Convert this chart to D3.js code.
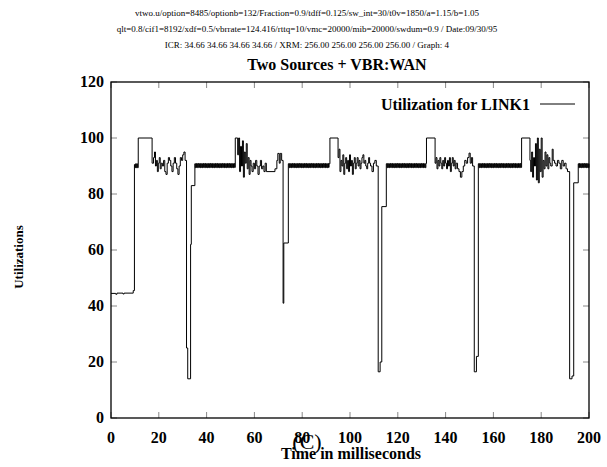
<!DOCTYPE html>
<html><head><meta charset="utf-8">
<script src="https://d3js.org/d3.v7.min.js"></script>
<style>body{margin:0;background:#fff}svg{display:block}</style>
</head><body>
<script>
const headerLines = [
  "vtwo.u/option=8485/optionb=132/Fraction=0.9/tdff=0.125/sw_int=30/t0v=1850/a=1.15/b=1.05",
  "qlt=0.8/cif1=8192/xdf=0.5/vbrrate=124.416/rttq=10/vmc=20000/mib=20000/swdum=0.9 / Date:09/30/95",
  "ICR: 34.66 34.66 34.66 34.66 / XRM: 256.00 256.00 256.00 256.00 / Graph: 4"
];
const titleText = "Two Sources + VBR:WAN";
const legendLabel = "Utilization for LINK1";
const xTitle = "Time in milliseconds";
const yTitle = "Utilizations";
const xTicks = [0,20,40,60,80,100,120,140,160,180,200];
const yTicks = [0,20,40,60,80,100,120];

// step series: [time ms, utilization %]
const startup = [[0,44.5],[2,44.2],[2.5,44.6],[5,44.3],[5.5,44.6],[9.3,45.5],[9.8,90.5],[10.05,89.4],[10.3,90.8],[10.55,89.4],[10.8,90.8],[11.05,89.4]];
const burst1 = [[11.4,100],[17.2,91],[17.8,93],[18.2,95],[18.6,90],[19.0,92],[19.4,88],[19.8,91],[20.2,93],[20.6,89],[21.0,91],[21.5,90],[22.0,92],[22.5,88],[23.0,87],[23.5,91],[24.0,93],[24.5,92],[25.0,90],[25.5,88],[26.0,91],[26.5,93],[27.0,91],[27.5,89],[28.0,87],[28.5,90],[29.0,93],[29.5,92],[30.0,94],[30.5,95],[31.0,92],[31.6,25],[32.1,14],[33.3,62],[33.6,83]];
const band1 = [[35.1,90.8],[35.25,89.4],[35.5,90.9],[35.75,89.5],[36,90.8],[36.25,89.4],[36.5,90.9],[36.75,89.5],[37,90.8],[37.25,89.4],[37.5,90.9],[37.75,89.5],[38,90.8],[38.25,89.4],[38.5,90.9],[38.75,89.5],[39,90.8],[39.25,89.4],[39.5,90.9],[39.75,89.5],[40,90.8],[40.25,89.4],[40.5,90.9],[40.75,89.5],[41,90.8],[41.25,89.4],[41.5,90.9],[41.75,89.5],[42,90.8],[42.25,89.4],[42.5,90.9],[42.75,89.5],[43,90.8],[43.25,89.4],[43.5,90.9],[43.75,89.5],[44,90.8],[44.25,89.4],[44.5,90.9],[44.75,89.5],[45,90.8],[45.25,89.4],[45.5,90.9],[45.75,89.5],[46,90.8],[46.25,89.4],[46.5,90.9],[46.75,89.5],[47,90.8],[47.25,89.4],[47.5,90.9],[47.75,89.5],[48,90.8],[48.25,89.4],[48.5,90.9],[48.75,89.5],[49,90.8],[49.25,89.4],[49.5,90.9],[49.75,89.5],[50,90.8],[50.25,89.4],[50.5,90.9],[50.75,89.5],[51,90.8],[51.25,89.4],[51.5,90.9],[51.75,89.5]];
const burst2 = [[52,100],[53.0,94],[53.4,100],[53.8,88],[54.2,97],[54.6,90],[55.0,99],[55.4,86],[55.8,95],[56.2,91],[56.6,98],[57.0,89],[57.4,93],[57.8,87],[58.2,92],[58.6,90],[59.0,88],[59.5,91],[60,89],[60.5,92],[61,90],[61.5,87],[62,90],[62.5,92],[63,89],[63.5,90],[64,88],[64.5,91],[65,88],[68.6,89],[69.4,92],[69.8,94.5],[70.4,91],[70.8,94.5],[71.4,92],[72.0,41],[72.3,62.5]];
const band2 = [[74.2,90.8],[74.5,89.4],[74.75,90.9],[75,89.5],[75.25,90.8],[75.5,89.4],[75.75,90.9],[76,89.5],[76.25,90.8],[76.5,89.4],[76.75,90.9],[77,89.5],[77.25,90.8],[77.5,89.4],[77.75,90.9],[78,89.5],[78.25,90.8],[78.5,89.4],[78.75,90.9],[79,89.5],[79.25,90.8],[79.5,89.4],[79.75,90.9],[80,89.5],[80.25,90.8],[80.5,89.4],[80.75,90.9],[81,89.5],[81.25,90.8],[81.5,89.4],[81.75,90.9],[82,89.5],[82.25,90.8],[82.5,89.4],[82.75,90.9],[83,89.5],[83.25,90.8],[83.5,89.4],[83.75,90.9],[84,89.5],[84.25,90.8],[84.5,89.4],[84.75,90.9],[85,89.5],[85.25,90.8],[85.5,89.4],[85.75,90.9],[86,89.5],[86.25,90.8],[86.5,89.4],[86.75,90.9],[87,89.5],[87.25,90.8],[87.5,89.4],[87.75,90.9],[88,89.5],[88.25,90.8],[88.5,89.4],[88.75,90.9],[89,89.5],[89.25,90.8],[89.5,89.4],[89.75,90.9],[90,89.5],[90.25,90.8],[90.5,89.4],[90.75,90.9],[91,89.5],[91.25,90.8]];
const burst3 = [[91.6,100],[95.0,93],[95.4,96],[95.8,88],[96.2,92],[96.6,90],[97,94],[97.4,87],[97.8,91],[98.2,93],[98.6,89],[99,92],[99.4,88],[99.8,94],[100.2,90],[100.6,92],[101,87],[101.4,91],[101.8,93],[102.2,89],[102.6,91],[103,93],[103.4,90],[103.8,92],[104.2,89],[104.6,91],[105,93],[105.4,94],[105.8,91],[106.2,92],[106.6,90],[107,89],[107.4,91],[107.8,93],[108.2,91],[108.6,90],[109.2,88],[109.8,91],[110.4,92],[111,90],[111.8,16.5],[112.6,20],[113.3,75.5]];
const band3 = [[115.2,90.8],[115.5,89.4],[115.75,90.9],[116,89.5],[116.25,90.8],[116.5,89.4],[116.75,90.9],[117,89.5],[117.25,90.8],[117.5,89.4],[117.75,90.9],[118,89.5],[118.25,90.8],[118.5,89.4],[118.75,90.9],[119,89.5],[119.25,90.8],[119.5,89.4],[119.75,90.9],[120,89.5],[120.25,90.8],[120.5,89.4],[120.75,90.9],[121,89.5],[121.25,90.8],[121.5,89.4],[121.75,90.9],[122,89.5],[122.25,90.8],[122.5,89.4],[122.75,90.9],[123,89.5],[123.25,90.8],[123.5,89.4],[123.75,90.9],[124,89.5],[124.25,90.8],[124.5,89.4],[124.75,90.9],[125,89.5],[125.25,90.8],[125.5,89.4],[125.75,90.9],[126,89.5],[126.25,90.8],[126.5,89.4],[126.75,90.9],[127,89.5],[127.25,90.8],[127.5,89.4],[127.75,90.9],[128,89.5],[128.25,90.8],[128.5,89.4],[128.75,90.9],[129,89.5],[129.25,90.8],[129.5,89.4],[129.75,90.9],[130,89.5],[130.25,90.8],[130.5,89.4],[130.75,90.9],[131,89.5],[131.25,90.8],[131.5,89.4],[131.75,90.9]];
const burst4 = [[132,100],[135.6,91],[136,93],[136.4,89],[136.8,92],[137.2,90],[137.6,93],[138,91],[138.4,89],[138.8,92],[139.2,90],[139.6,93],[140,91],[140.4,89],[140.8,92],[141.2,90],[141.6,93],[142,88],[142.4,91],[142.8,93],[143.2,90],[143.6,92],[144,89],[144.4,91],[145,89],[145.6,88],[146.2,86],[146.8,88],[147.4,90],[148,92],[148.6,91],[149.2,93],[149.8,94.6],[150.3,91],[150.8,93],[151.3,90],[152.0,16.5],[152.9,22]];
const band4 = [[153.7,90.8],[154,89.4],[154.25,90.9],[154.5,89.5],[154.75,90.8],[155,89.4],[155.25,90.9],[155.5,89.5],[155.75,90.8],[156,89.4],[156.25,90.9],[156.5,89.5],[156.75,90.8],[157,89.4],[157.25,90.9],[157.5,89.5],[157.75,90.8],[158,89.4],[158.25,90.9],[158.5,89.5],[158.75,90.8],[159,89.4],[159.25,90.9],[159.5,89.5],[159.75,90.8],[160,89.4],[160.25,90.9],[160.5,89.5],[160.75,90.8],[161,89.4],[161.25,90.9],[161.5,89.5],[161.75,90.8],[162,89.4],[162.25,90.9],[162.5,89.5],[162.75,90.8],[163,89.4],[163.25,90.9],[163.5,89.5],[163.75,90.8],[164,89.4],[164.25,90.9],[164.5,89.5],[164.75,90.8],[165,89.4],[165.25,90.9],[165.5,89.5],[165.75,90.8],[166,89.4],[166.25,90.9],[166.5,89.5],[166.75,90.8],[167,89.4],[167.25,90.9],[167.5,89.5],[167.75,90.8],[168,89.4],[168.25,90.9],[168.5,89.5],[168.75,90.8],[169,89.4],[169.25,90.9],[169.5,89.5],[169.75,90.8],[170,89.4],[170.25,90.9],[170.5,89.5],[170.75,90.8],[171,89.4],[171.25,90.9],[171.5,89.5]];
const burst5 = [[171.8,100],[175.3,92],[175.6,88],[176,95],[176.4,86],[176.8,93],[177.2,90],[177.6,98],[178,85],[178.4,100],[178.8,84],[179.2,96],[179.6,88],[180,100],[180.4,86],[180.8,92],[181.2,89],[181.6,95],[182,90],[182.4,94],[182.8,89],[183.2,93],[183.6,91],[184,90],[184.6,96],[185.0,92],[185.6,91],[186.2,90],[186.8,92],[187.4,91],[188,89],[188.6,92],[189.2,90],[189.8,91],[190.4,89],[191.0,88],[191.9,14],[192.9,15],[193.6,84]];
const band5 = [[195.5,90.8],[195.75,89.4],[196,90.9],[196.25,89.5],[196.5,90.8],[196.75,89.4],[197,90.9],[197.25,89.5],[197.5,90.8],[197.75,89.4],[198,90.9],[198.25,89.5],[198.5,90.8],[198.75,89.4],[199,90.9],[199.25,89.5],[199.5,90.8],[199.75,89.4],[200,90.8]];

const link1 = [].concat(startup, burst1, band1, burst2, band2, burst3, band3, burst4, band4, burst5, band5);

const W = 607, H = 467;
const M = {left:111, right:589, top:82, bottom:418};
const svg = d3.select("body").append("svg").attr("width", W).attr("height", H);
const serif = "'Liberation Serif','Times New Roman',serif";

const x = d3.scaleLinear().domain([0,200]).range([M.left, M.right]);
const y = d3.scaleLinear().domain([0,120]).range([M.bottom, M.top]);

// header lines
svg.selectAll("text.hdr").data(headerLines).join("text")
  .attr("class","hdr").attr("x", 307).attr("y", (d,i)=>16 + i*16)
  .attr("text-anchor","middle").attr("font-family", serif).attr("font-size", 9)
  .text(d=>d);

svg.append("text").attr("x", 337).attr("y", 70).attr("text-anchor","middle")
  .attr("font-family", serif).attr("font-weight","bold").attr("font-size", 16).text(titleText);

// ticks (inward, all four sides)
const tickColor = "#888";
const tl = 6;
const g = svg.append("g");
g.selectAll("line.xb").data(xTicks).join("line").attr("x1", d=>x(d)).attr("x2", d=>x(d))
  .attr("y1", M.bottom).attr("y2", M.bottom - tl).attr("stroke", tickColor);
g.selectAll("line.xt").data(xTicks).join("line").attr("x1", d=>x(d)).attr("x2", d=>x(d))
  .attr("y1", M.top).attr("y2", M.top + tl).attr("stroke", tickColor);
g.selectAll("line.yl").data(yTicks).join("line").attr("y1", d=>y(d)).attr("y2", d=>y(d))
  .attr("x1", M.left).attr("x2", M.left + tl).attr("stroke", tickColor);
g.selectAll("line.yr").data(yTicks).join("line").attr("y1", d=>y(d)).attr("y2", d=>y(d))
  .attr("x1", M.right).attr("x2", M.right - tl).attr("stroke", tickColor);

// frame
svg.append("rect").attr("x", M.left).attr("y", M.top).attr("width", M.right-M.left)
  .attr("height", M.bottom-M.top).attr("fill","none").attr("stroke","#000").attr("stroke-width",1.3);

// tick labels
svg.selectAll("text.xl").data(xTicks).join("text").attr("x", d=>x(d)).attr("y", 443)
  .attr("text-anchor","middle").attr("font-family", serif).attr("font-weight","bold").attr("font-size",16).text(d=>d);
svg.selectAll("text.yl").data(yTicks).join("text").attr("x", 104).attr("y", d=>y(d)+5)
  .attr("text-anchor","end").attr("font-family", serif).attr("font-weight","bold").attr("font-size",16).text(d=>d);

// axis titles
svg.append("text").attr("x", 351).attr("y", 459).attr("text-anchor","middle")
  .attr("font-family", serif).attr("font-weight","bold").attr("font-size",16).text(xTitle);
svg.append("text").attr("transform","translate(23,257) rotate(-90)").attr("text-anchor","middle")
  .attr("font-family", serif).attr("font-weight","bold").attr("font-size",13).text(yTitle);
svg.append("text").attr("x", 307).attr("y", 449).attr("text-anchor","middle")
  .attr("font-family", serif).attr("font-size",22).text("(C)");

// data line
const line = d3.line().x(d=>x(d[0])).y(d=>y(d[1])).curve(d3.curveStepAfter);
svg.append("path").datum(link1).attr("d", line).attr("fill","none")
  .attr("stroke","#000").attr("stroke-width",1);

// legend
svg.append("text").attr("x", 530).attr("y", 110).attr("text-anchor","end")
  .attr("font-family", serif).attr("font-weight","bold").attr("font-size",16).text(legendLabel);
svg.append("line").attr("x1", 540).attr("x2", 575).attr("y1", 104).attr("y2", 104)
  .attr("stroke","#000").attr("stroke-width",1);
</script>
</body></html>
